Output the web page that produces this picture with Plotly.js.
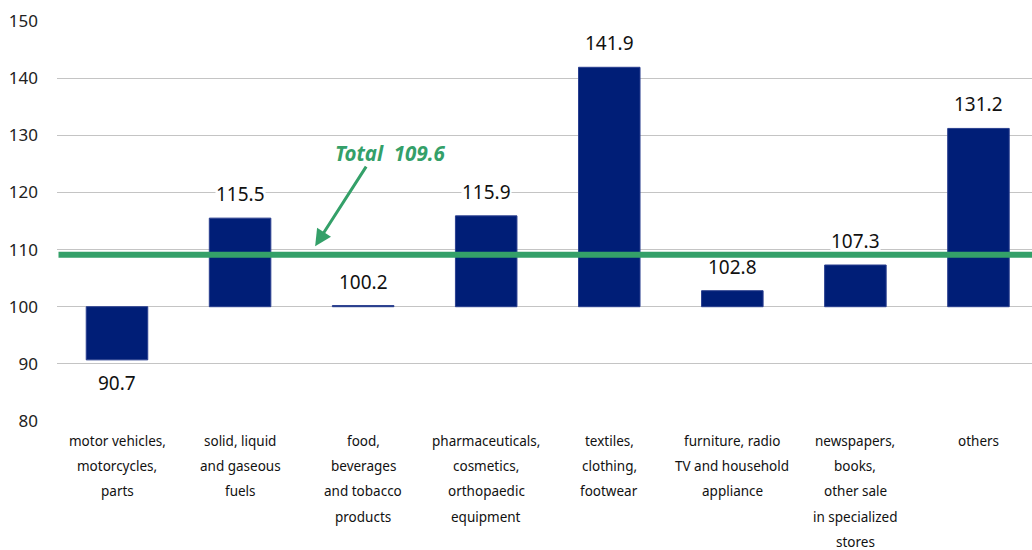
<!DOCTYPE html>
<html>
<head>
<meta charset="utf-8">
<script src="https://cdn.plot.ly/plotly-3.0.1.min.js"></script>
<style>html,body{margin:0;padding:0;background:#fff;}#chart{width:1032px;height:550px;}</style>
</head>
<body>
<div id="chart"></div>
<script>
var categories = [
  "motor vehicles,<br>motorcycles,<br>parts",
  "solid, liquid<br>and gaseous<br>fuels",
  "food,<br>beverages<br>and tobacco<br>products",
  "pharmaceuticals,<br>cosmetics,<br>orthopaedic<br>equipment",
  "textiles,<br>clothing,<br>footwear",
  "furniture, radio<br>TV and household<br>appliance",
  "newspapers,<br>books,<br>other sale<br>in specialized<br>stores",
  "others"
];
var values = [90.7, 115.5, 100.2, 115.9, 141.9, 102.8, 107.3, 131.2];
var baseValue = 100;
var totalValue = 109.6;
var totalLineLevel = 109.1;
var totalLabel = "Total  109.6";
var yTicks = [80, 90, 100, 110, 120, 130, 140, 150];

var FONT = "Noto Sans, Open Sans, sans-serif";
var navy = "#001e77";
var green = "#34a069";
var xRange = [-0.4875, 7.435];

var idx = categories.map(function(_, i){ return i; });

var bar = {
  type: "bar",
  x: idx,
  y: values.map(function(v){ return v - baseValue; }),
  base: values.map(function(){ return baseValue; }),
  width: 0.5,
  marker: {color: navy, line: {color: "#2a3f8f", width: 1}},
  hoverinfo: "skip"
};

var annotations = [];
values.forEach(function(v, i){
  annotations.push({
    x: i, y: v, xref: "x", yref: "y",
    text: v.toFixed(1), showarrow: false,
    yshift: v >= baseValue ? 24 : -23,
    bgcolor: "#ffffff", borderpad: 0,
    font: {family: FONT, size: 19, color: "#111111"}
  });
});
categories.forEach(function(c, i){
  c.split("<br>").forEach(function(line, j){
    annotations.push({
      x: i, y: 0, xref: "x", yref: "paper",
      text: line, showarrow: false, yanchor: "middle",
      yshift: -20 - j * 25.2,
      font: {family: FONT, size: 13.5, color: "#111111"}
    });
  });
});
// total line drawn as an arrow-less annotation so it sits above label backgrounds
annotations.push({
  x: xRange[1] + 0.2, y: totalLineLevel, xref: "x", yref: "y",
  ax: xRange[0], ay: totalLineLevel, axref: "x", ayref: "y",
  text: "", showarrow: true, arrowhead: 0, standoff: 0, startstandoff: 0,
  arrowwidth: 6, arrowcolor: green
});
annotations.push({
  x: 1.61, y: 110.6, xref: "x", yref: "y",
  ax: 52, ay: -81, axref: "pixel", ayref: "pixel",
  text: "", showarrow: true, arrowhead: 2, arrowsize: 1.1,
  arrowwidth: 3, arrowcolor: green
});
annotations.push({
  x: 2.22, y: totalLineLevel, xref: "x", yref: "y",
  text: "<b><i>" + totalLabel + "</i></b>", showarrow: false,
  yshift: 102,
  font: {family: FONT, size: 20.5, color: green}
});

var layout = {
  width: 1032, height: 550,
  margin: {l: 57, r: 0, t: 21, b: 129},
  paper_bgcolor: "#ffffff", plot_bgcolor: "#ffffff",
  showlegend: false,
  xaxis: {
    range: xRange,
    showticklabels: false, showgrid: false, zeroline: false,
    fixedrange: true
  },
  yaxis: {
    range: [80, 150], tickvals: yTicks, ticktext: yTicks.map(String),
    showgrid: true, gridcolor: "#c4c4c4", gridwidth: 1,
    zeroline: false, showline: false,
    ticks: "", ticklabelstandoff: 18,
    tickfont: {family: FONT, size: 17, color: "#222222"}
  },
  annotations: annotations
};

Plotly.newPlot("chart", [bar], layout, {staticPlot: true, displayModeBar: false});
</script>
</body>
</html>
